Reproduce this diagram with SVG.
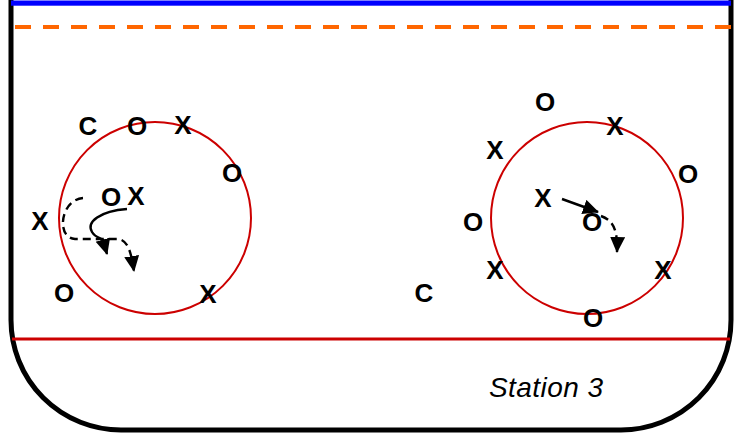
<svg xmlns="http://www.w3.org/2000/svg" width="741" height="433" viewBox="0 0 741 433">
<style>
.p{font-family:"Liberation Sans",Arial,sans-serif;font-weight:bold;font-size:26px;fill:#000;text-anchor:middle}
.ring{fill:none;stroke:#cc0000;stroke-width:2}
.skate{fill:none;stroke:#000;stroke-width:2.4}
.dash{stroke-dasharray:8 5}
</style>
<defs>
<marker id="ah" markerUnits="userSpaceOnUse" markerWidth="18" markerHeight="18" refX="15" refY="7.5" orient="auto">
<path d="M0,0 L16,7.5 L0,15 Z" fill="#000"/>
</marker>
</defs>
<rect width="741" height="433" fill="#fff"/>
<g id="rink">
<path d="M11,0 L11,320 A110,110 0 0 0 121,430 L621,430 A110,110 0 0 0 731,320 L731,0" fill="none" stroke="#000" stroke-width="5"/>
<rect x="11" y="0.5" width="720" height="5.2" fill="#0000ff"/>
<line x1="15" y1="27" x2="731" y2="27" stroke="#ff6600" stroke-width="4" stroke-dasharray="16 12"/>
<line x1="12" y1="339" x2="730" y2="339" stroke="#cc0000" stroke-width="3"/>
<circle class="ring" cx="155" cy="218" r="96"/>
<circle class="ring" cx="587" cy="218" r="96"/>
<text x="489" y="397" font-family="Liberation Sans,Arial,sans-serif" font-style="italic" font-size="28" textLength="114">Station 3</text>
</g>
<g id="left-station">
<text class="p" x="88" y="135">C</text>
<text class="p" x="137" y="135">O</text>
<text class="p" x="183" y="134">X</text>
<text class="p" x="232" y="182">O</text>
<text class="p" x="111" y="206">O</text>
<text class="p" x="136" y="205">X</text>
<text class="p" x="40" y="230">X</text>
<text class="p" x="64" y="302">O</text>
<text class="p" x="208" y="303">X</text>
</g>
<g id="right-station">
<text class="p" x="545" y="111">O</text>
<text class="p" x="615" y="135">X</text>
<text class="p" x="495" y="159">X</text>
<text class="p" x="688" y="183">O</text>
<text class="p" x="543" y="207">X</text>
<text class="p" x="592" y="231">O</text>
<text class="p" x="473" y="231">O</text>
<text class="p" x="495" y="279">X</text>
<text class="p" x="663" y="279">X</text>
<text class="p" x="593" y="327">O</text>
<text class="p" x="424" y="302">C</text>
</g>
<g id="connectors">
<path class="skate" d="M127,209 C100,211 86,222 92,232 C95,237 100,238 103,240 L107,254" marker-end="url(#ah)"/>
<path class="skate dash" d="M83,198 C60,200 56,238 75,239 L118,239 C128,240 131,252 134,271" marker-end="url(#ah)"/>
<path class="skate" d="M562,199 L598,212" marker-end="url(#ah)"/>
<path class="skate dash" d="M601,216 C612,220 618,228 617,252" marker-end="url(#ah)"/>
</g>
</svg>
